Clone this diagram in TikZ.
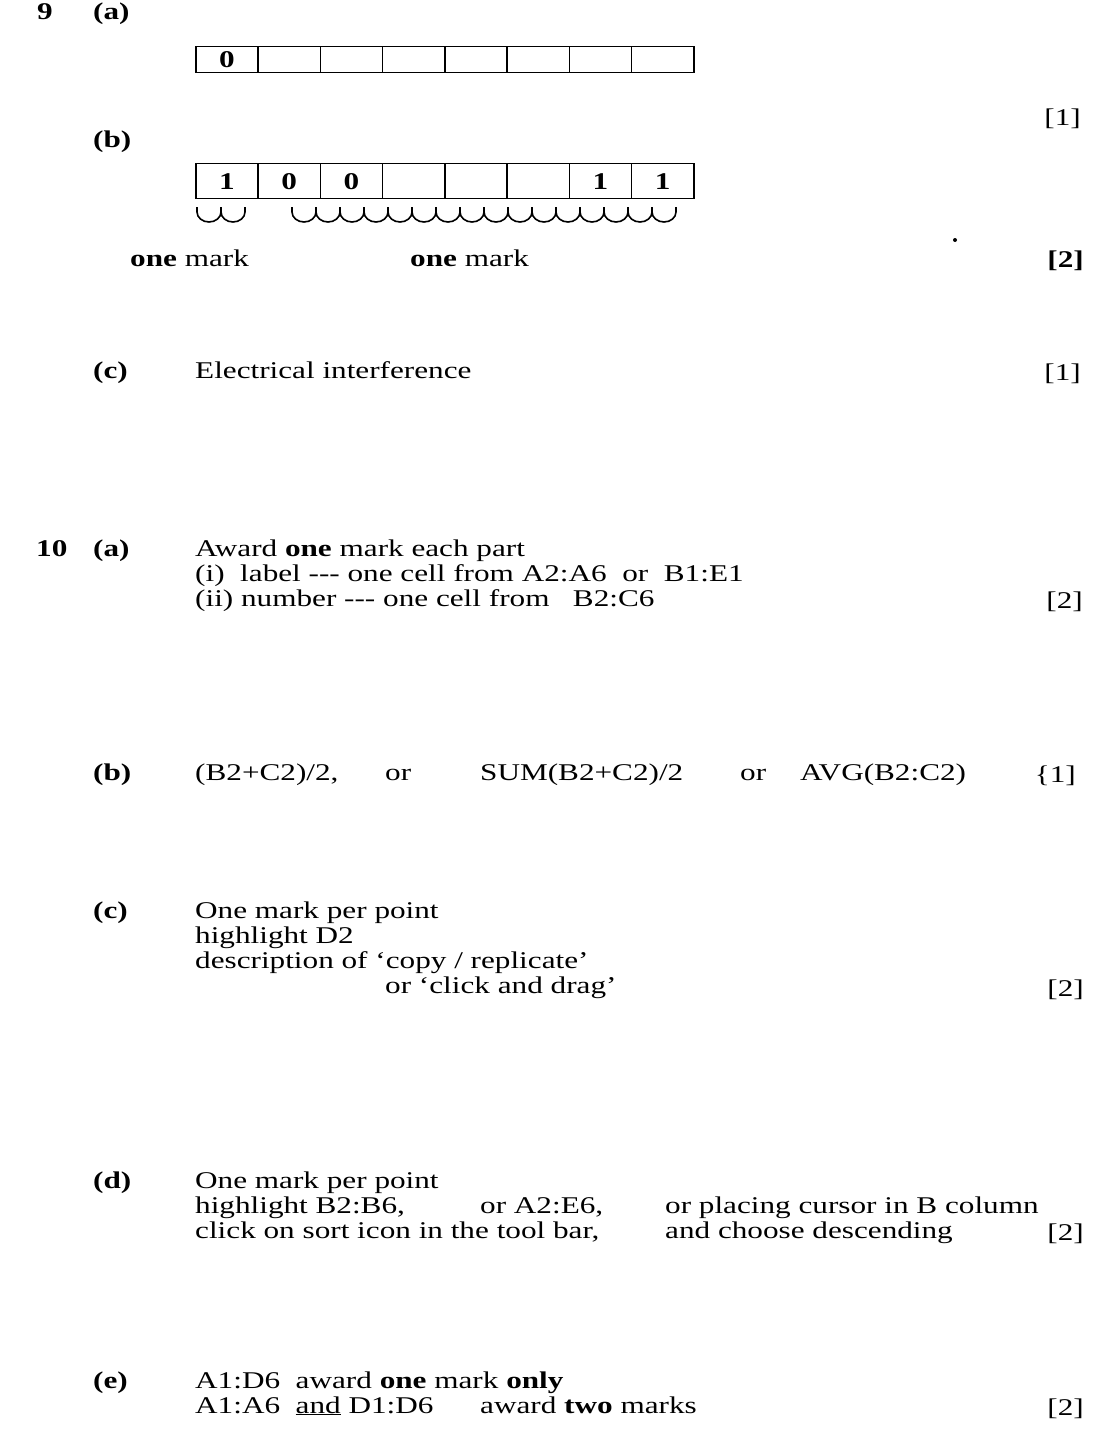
\documentclass[tikz,border=0pt]{standalone}
\usepackage{fontspec}
\setmainfont{Liberation Serif}[FakeStretch=1.3]
\begin{document}
\begin{tikzpicture}[x=1pt,y=-1pt,
  txt/.style={anchor=base west, inner sep=0pt, font=\fontsize{24}{27}\selectfont},
  btxt/.style={txt, font=\fontsize{24}{27}\selectfont\bfseries},
  mk/.style={txt, anchor=base east},
  bmk/.style={btxt, anchor=base east},
  cell/.style={draw, line width=1.5pt, minimum width=62.25pt,
    inner sep=0pt, anchor=north west, font=\fontsize{24}{27}\selectfont\bfseries},
  scallop/.style={line width=1.6pt}]
\useasboundingbox (0,0) rectangle (1092,1450);

% ---------- Question 9 ----------
\node[btxt] (q9) at (37,20) {9};
\node[btxt] (q9a) at (93,20) {(a)};
\foreach \i/\v in {0/0,1/,2/,3/,4/,5/,6/,7/}
  \node[cell, minimum height=26pt] (a\i) at ({195+62.25*\i},46) {\v};
\node[mk] (m9a) at (1081,126) {[1]};

\node[btxt] (q9b) at (93,148) {(b)};
\foreach \i/\v in {0/1,1/0,2/0,3/,4/,5/,6/1,7/1}
  \node[cell, minimum height=35pt] (b\i) at ({195+62.25*\i},163) {\v};

\foreach \k in {0,1}
  \draw[scallop] ({197+24*\k},207) -- ({197+24*\k},212) arc[start angle=180,end angle=0,x radius=12,y radius=10] -- ({221+24*\k},207);
\foreach \k in {0,...,15}
  \draw[scallop] ({292+24*\k},207) -- ({292+24*\k},212) arc[start angle=180,end angle=0,x radius=12,y radius=10] -- ({316+24*\k},207);

\node[txt] (om1) at (130,266) {\textbf{one} mark};
\node[txt] (om2) at (410,266) {\textbf{one} mark};
\fill (955,240) circle[radius=2];
\node[bmk] (m9b) at (1084,267) {[2]};

\node[btxt] (q9c) at (93,378) {(c)};
\node[txt] (t9c) at (195,378) {Electrical interference};
\node[mk] (m9c) at (1081,380) {[1]};

% ---------- Question 10 ----------
\node[btxt] (q10) at (36,556) {10};
\node[btxt] (q10a) at (93,556) {(a)};
\node[txt] (t10a1) at (195,556) {Award \textbf{one} mark each part};
\node[txt] (t10a2) at (195,581) {(i)\ \ label -{}-{}- one cell from A2:A6\ \ or\ \ B1:E1};
\node[txt] (t10a3) at (195,606) {(ii) number -{}-{}- one cell from\ \ \ B2:C6};
\node[mk] (m10a) at (1083,608) {[2]};

\node[btxt] (q10b) at (93,780) {(b)};
\node[txt] (t10b1) at (195,780) {(B2+C2)/2,};
\node[txt] (t10b2) at (385,780) {or};
\node[txt] (t10b3) at (480,780) {SUM(B2+C2)/2};
\node[txt] (t10b4) at (740,780) {or};
\node[txt] (t10b5) at (800,780) {AVG(B2:C2)};
\node[mk] (m10b) at (1076,782) {\{1]};

\node[btxt] (q10c) at (93,918) {(c)};
\node[txt] (t10c1) at (195,918) {One mark per point};
\node[txt] (t10c2) at (195,943) {highlight D2};
\node[txt] (t10c3) at (195,968) {description of ‘copy / replicate’};
\node[txt] (t10c4) at (385,993) {or ‘click and drag’};
\node[mk] (m10c) at (1084,996) {[2]};

\node[btxt] (q10d) at (93,1188) {(d)};
\node[txt] (t10d1) at (195,1188) {One mark per point};
\node[txt] (t10d2) at (195,1213) {highlight B2:B6,};
\node[txt] (t10d3) at (480,1213) {or A2:E6,};
\node[txt] (t10d4) at (665,1213) {or placing cursor in B column};
\node[txt] (t10d5) at (195,1238) {click on sort icon in the tool bar,};
\node[txt] (t10d6) at (665,1238) {and choose descending};
\node[mk] (m10d) at (1084,1240) {[2]};

\node[btxt] (q10e) at (93,1388) {(e)};
\node[txt] (t10e1) at (195,1388) {A1:D6\ \ award \textbf{one} mark \textbf{only}};
\node[txt] (t10e2) at (195,1413) {A1:A6\ \ \underline{and} D1:D6};
\node[txt] (t10e3) at (480,1413) {award \textbf{two} marks};
\node[mk] (m10e) at (1084,1415) {[2]};
\end{tikzpicture}
\end{document}
